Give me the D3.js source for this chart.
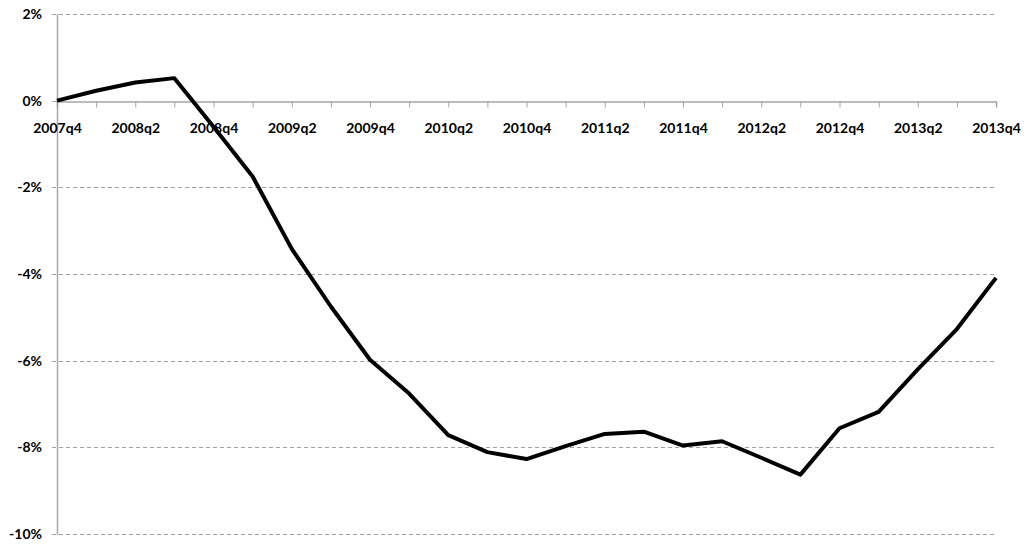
<!DOCTYPE html>
<html>
<head>
<meta charset="utf-8">
<script src="https://cdn.jsdelivr.net/npm/d3@7"></script>
<style>
  html, body { margin: 0; padding: 0; background: #fff; }
  svg text { font-family: Lato, "Open Sans", "Liberation Sans", sans-serif; font-weight: bold; font-size: 14px; fill: #000; }
</style>
</head>
<body>
<svg id="chart" width="1028" height="546"></svg>
<script>
const quarters = ["2007q4","2008q1","2008q2","2008q3","2008q4","2009q1","2009q2","2009q3","2009q4",
  "2010q1","2010q2","2010q3","2010q4","2011q1","2011q2","2011q3","2011q4",
  "2012q1","2012q2","2012q3","2012q4","2013q1","2013q2","2013q3","2013q4"];
const values = [0.0, 0.23, 0.42, 0.52, -0.6, -1.75, -3.42, -4.75, -5.98,
  -6.76, -7.72, -8.11, -8.27, -7.97, -7.69, -7.64, -7.96,
  -7.86, -8.24, -8.63, -7.56, -7.18, -6.2, -5.27, -4.09];
const yTicks = [2, 0, -2, -4, -6, -8, -10];

(function () {
const svg = d3.select("#chart");
const mLeft = 57, mRight = 996, mTop = 14, mBottom = 534;

const x = d3.scalePoint().domain(quarters).range([mLeft, mRight]);
const y = d3.scaleLinear().domain([-10, 2]).range([mBottom, mTop]);

// gridlines
svg.append("g").selectAll("line").data(yTicks.filter(d => d !== 0)).join("line")
  .attr("x1", mLeft - 5).attr("x2", mRight)
  .attr("y1", d => Math.round(y(d)) + 0.5).attr("y2", d => Math.round(y(d)) + 0.5)
  .attr("stroke", "#a0a0a0").attr("stroke-width", 1).attr("stroke-dasharray", "4,3");

// y axis line
svg.append("line")
  .attr("x1", mLeft + 0.5).attr("x2", mLeft + 0.5)
  .attr("y1", mTop).attr("y2", mBottom + 1)
  .attr("stroke", "#a6a6a6").attr("stroke-width", 1.5);

// zero tick on left
svg.append("line")
  .attr("x1", mLeft - 5).attr("x2", mLeft)
  .attr("y1", Math.round(y(0)) + 0.5).attr("y2", Math.round(y(0)) + 0.5)
  .attr("stroke", "#a6a6a6").attr("stroke-width", 1);

// x axis at zero
const xAxis = d3.axisBottom(x).tickSize(6).tickFormat((d, i) => i % 2 === 0 ? d : "");
const gx = svg.append("g").attr("transform", `translate(0,${Math.round(y(0)) + 0.5})`).call(xAxis);
gx.select(".domain").attr("stroke", "#a6a6a6").attr("stroke-width", 1.5);
gx.selectAll(".tick line").attr("stroke", "#a6a6a6");
gx.selectAll(".tick text").attr("dy", null).attr("y", 31)
  .style("font-family", "Lato, 'Open Sans', sans-serif").style("font-weight", "bold").style("font-size", "14px").attr("fill", "#000");

// y labels
svg.append("g").selectAll("text").data(yTicks).join("text")
  .attr("x", 42).attr("y", d => y(d)).attr("dy", "0.35em")
  .attr("text-anchor", "end")
  .text(d => d + "%");

// line
const line = d3.line().x((d, i) => x(quarters[i])).y(d => y(d));
svg.append("path").datum(values)
  .attr("fill", "none").attr("stroke", "#000").attr("stroke-width", 4)
  .attr("stroke-linejoin", "round")
  .attr("d", line);
})();
</script>
</body>
</html>
